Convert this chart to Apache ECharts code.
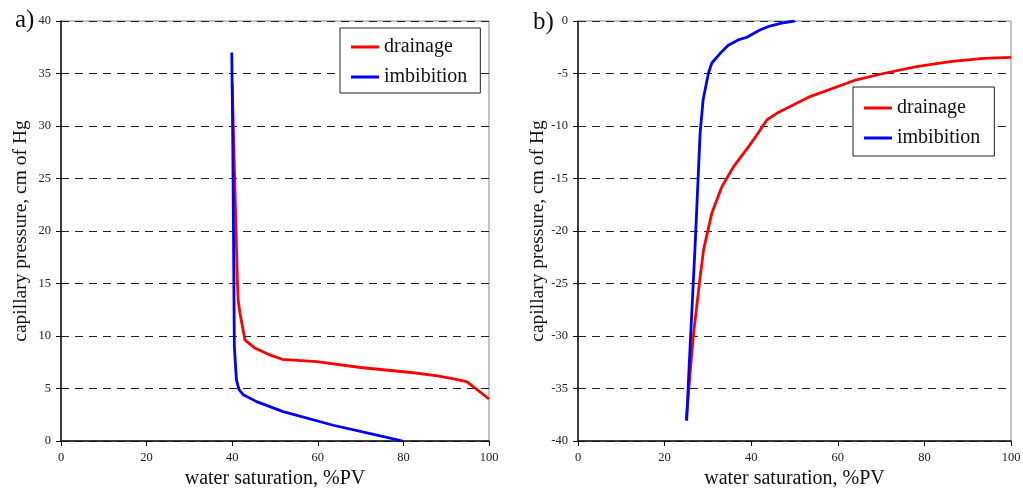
<!DOCTYPE html>
<html><head><meta charset="utf-8">
<script src="https://cdn.jsdelivr.net/npm/echarts@6/dist/echarts.min.js"></script>
<style>html,body{margin:0;padding:0;background:#fff}#c{width:1023px;height:495px}</style>
</head><body><div id="c"></div>
<script>
// a) left panel
const aDrainSat = [40.0, 40.3, 40.9, 41.2, 41.4, 41.8, 43.0, 45.3, 48.8, 51.6, 59.7, 70.0, 82.3, 88.0, 92.0, 94.8, 100];
const aDrainPc  = [34.0, 29.3, 20.1, 15.3, 13.4, 12.2, 9.6, 8.85, 8.2, 7.78, 7.55, 7.0, 6.5, 6.2, 5.9, 5.65, 4.0];
const aImbSat = [39.9, 40.1, 40.3, 40.5, 40.8, 41.0, 41.6, 42.6, 45.7, 51.9, 63.6, 73.8, 79.8];
const aImbPc  = [37.0, 30.0, 20.0, 9.0, 7.0, 5.8, 4.9, 4.4, 3.75, 2.8, 1.5, 0.57, 0];
// b) right panel
const bDrainSat = [25.0, 25.5, 26.6, 28.2, 29.0, 30.9, 33.2, 35.9, 39.7, 41.3, 43.6, 45.9, 53.6, 64.3, 70.5, 78.2, 85.9, 93.6, 100];
const bDrainPc  = [-38, -35.5, -30.1, -24.4, -21.8, -18.3, -15.8, -13.9, -11.8, -10.86, -9.43, -8.79, -7.2, -5.6, -5.0, -4.35, -3.87, -3.55, -3.46];
const bImbSat = [25.1, 25.7, 27.0, 28.2, 28.9, 30.1, 30.9, 32.8, 34.7, 37.0, 39.0, 42.0, 44.3, 47.0, 50.0];
const bImbPc  = [-38.07, -32.6, -21.8, -10.7, -7.5, -5.0, -4.0, -3.1, -2.3, -1.8, -1.55, -0.86, -0.48, -0.2, 0];
const xTicks = [0, 20, 40, 60, 80, 100];
const names = ['drainage', 'imbibition'];

const zip = (a, b) => a.map((v, i) => [v, b[i]]);
const font = 'Liberation Serif';
const RED = '#ff0000', BLUE = '#0000ff';

function xAx(idx) {
  return {
    type: 'value', gridIndex: idx, min: xTicks[0], max: xTicks[xTicks.length - 1], interval: 20,
    name: 'water saturation, %PV', nameLocation: 'middle', nameGap: 27,
    nameTextStyle: { fontFamily: font, fontSize: 20, color: '#111' },
    axisLine: { show: true, onZero: false, lineStyle: { color: '#111', width: 1.5 } },
    axisTick: { show: true, inside: false, length: 5, lineStyle: { color: '#111' } },
    axisLabel: { fontFamily: font, fontSize: 12.5, color: '#222', margin: 10 },
    splitLine: { show: false }
  };
}
function yAx(idx, min, max, gap) {
  return {
    type: 'value', gridIndex: idx, min: min, max: max, interval: 5,
    name: 'capillary pressure, cm of Hg', nameLocation: 'middle', nameGap: gap,
    nameTextStyle: { fontFamily: font, fontSize: 19.5, color: '#111' },
    axisLine: { show: true, onZero: false, lineStyle: { color: '#111', width: 1.5 } },
    axisTick: { show: true, inside: false, length: 5, lineStyle: { color: '#111' } },
    axisLabel: { fontFamily: font, fontSize: 12.5, color: '#222', margin: 10 },
    splitLine: { show: true, lineStyle: { color: '#222', type: [8, 6], width: 1 } }
  };
}
function ser(name, x, y, color, idx) {
  return { name: name, type: 'line', xAxisIndex: idx, yAxisIndex: idx, data: zip(x, y),
    showSymbol: false, symbol: 'none', lineStyle: { color: color, width: 2.8 }, itemStyle: { color: color },
    smooth: false, animation: false };
}
function leg(pos, pad) {
  return Object.assign({
    data: names, orient: 'vertical', icon: 'rect', itemWidth: 28, itemHeight: 3, itemGap: 10,
    textStyle: { fontFamily: font, fontSize: 20, color: '#111' },
    borderColor: '#222', borderWidth: 1, backgroundColor: '#fff', padding: pad
  }, pos);
}

const chart = echarts.init(document.getElementById('c'), null, { renderer: 'canvas' });
chart.setOption({
  animation: false,
  title: [
    { text: 'a)', left: 10, top: 3, textStyle: { fontFamily: font, fontSize: 25, fontWeight: 'normal', color: '#111' } },
    { text: 'b)', left: 528, top: 5, textStyle: { fontFamily: font, fontSize: 25, fontWeight: 'normal', color: '#111' } }
  ],
  grid: [
    { left: 61, top: 21, width: 428, height: 420, outerBoundsMode: 'none', containLabel: false, show: true, borderColor: '#888', borderWidth: 1, backgroundColor: 'transparent' },
    { left: 578, top: 21, width: 433, height: 420, outerBoundsMode: 'none', containLabel: false, show: true, borderColor: '#888', borderWidth: 1, backgroundColor: 'transparent' }
  ],
  xAxis: [xAx(0), xAx(1)],
  yAxis: [yAx(0, 0, 40, 30), yAx(1, -40, 0, 27)],
  legend: [leg({ left: 340, top: 28 }, [9, 13, 6, 11]), leg({ left: 853, top: 87 }, [11, 14, 8, 11])],
  series: [
    ser('drainage', aDrainSat, aDrainPc, RED, 0),
    ser('imbibition', aImbSat, aImbPc, BLUE, 0),
    ser('drainage', bDrainSat, bDrainPc, RED, 1),
    ser('imbibition', bImbSat, bImbPc, BLUE, 1)
  ]
});
</script></body></html>
